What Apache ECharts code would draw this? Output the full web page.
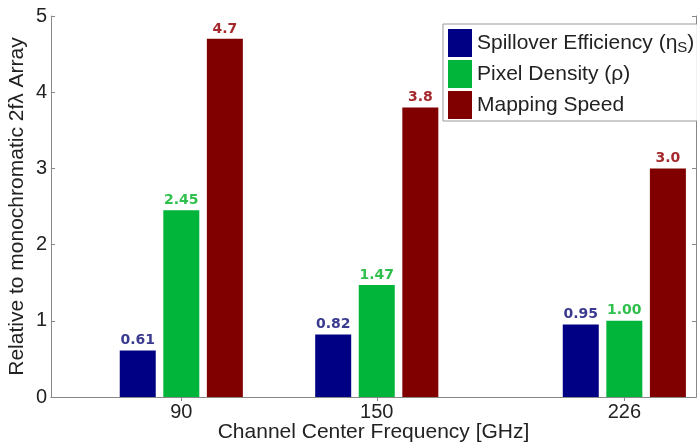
<!DOCTYPE html>
<html><head><meta charset="utf-8">
<script src="https://cdn.jsdelivr.net/npm/echarts@6/dist/echarts.min.js"></script>
<style>html,body{margin:0;padding:0;background:#fff}#c{width:697px;height:445px}</style>
</head><body><div id="c"></div>
<script>
const frequencies = [90, 150, 226];
const spillover = [0.61, 0.82, 0.95];
const pixelDensity = [2.45, 1.47, 1.00];
const mappingSpeed = [4.7, 3.8, 3.0];
const seriesNames = ['Spillover Efficiency (ηS)', 'Pixel Density (ρ)', 'Mapping Speed'];
const yTicks = [0, 1, 2, 3, 4, 5];

const barColors = ['#000084', '#00b53a', '#800000'];
const labelColors = ['#3a3a8e', '#2fbf4c', '#a52a2e'];
const decimals = [2, 2, 1];
const allValues = [spillover, pixelDensity, mappingSpeed];

const chart = echarts.init(document.getElementById('c'), null, {renderer: 'canvas'});
const font = 'Liberation Sans, Arial, sans-serif';

const series = allValues.map((vals, i) => ({
  name: seriesNames[i],
  type: 'bar',
  xAxisIndex: 0, yAxisIndex: 0,
  barWidth: 36,
  barGap: '21%',
  itemStyle: {color: barColors[i]},
  label: {
    show: true, position: 'top', distance: 3,
    color: labelColors[i], fontFamily: 'DejaVu Sans, sans-serif', fontWeight: 'bold', fontSize: 14,
    formatter: p => p.value[1].toFixed(decimals[i])
  },
  data: frequencies.map((f, k) => [f, vals[k]])
}));

chart.setOption({
  animation: false,
  backgroundColor: '#fff',
  grid: {left: 51, top: 16, right: 1, bottom: 48, containLabel: false, outerBoundsMode: 'none'},
  legend: {
    orient: 'vertical', left: 443, top: 24,
    data: seriesNames,
    icon: 'rect', itemWidth: 24, itemHeight: 28, itemGap: 3,
    padding: [5, 3, 2, 5],
    borderColor: '#999', borderWidth: 1, backgroundColor: '#fff',
    textStyle: {
      fontFamily: font, fontSize: 21, color: '#222',
      rich: {
        t: {fontFamily: font, fontSize: 21, color: '#222'},
        s: {fontFamily: font, fontSize: 15, color: '#222', verticalAlign: 'bottom', padding: [10, 0, 0, 0]}
      }
    },
    formatter: function (name) {
      if (name === seriesNames[0]) return '{t|Spillover Efficiency (η}{s|S}{t|)}';
      return '{t|' + name + '}';
    }
  },
  xAxis: [{
    type: 'value', min: 50, max: 248, position: 'bottom',
    name: 'Channel Center Frequency [GHz]', nameLocation: 'middle', nameGap: 25, nameMoveOverlap: false,
    nameTextStyle: {fontFamily: font, fontSize: 21, color: '#222'},
    axisLine: {show: true, lineStyle: {color: '#888', width: 1}},
    axisTick: {show: true, inside: true, length: 4, customValues: frequencies, lineStyle: {color: '#888'}},
    axisLabel: {customValues: frequencies, fontFamily: font, fontSize: 20, color: '#222', margin: 5},
    splitLine: {show: false}
  }, {
    type: 'value', min: 50, max: 248, position: 'top',
    axisLine: {show: true, lineStyle: {color: '#888', width: 1}},
    axisTick: {show: true, inside: true, length: 4, customValues: frequencies, lineStyle: {color: '#888'}},
    axisLabel: {show: false},
    splitLine: {show: false}
  }],
  yAxis: [{
    type: 'value', min: 0, max: 5, interval: 1, position: 'left',
    name: 'Relative to monochromatic 2fλ Array', nameLocation: 'middle', nameGap: 23, nameMoveOverlap: false,
    nameTextStyle: {fontFamily: font, fontSize: 21, color: '#222'},
    axisLine: {show: true, lineStyle: {color: '#888', width: 1}},
    axisTick: {show: true, inside: true, length: 4, lineStyle: {color: '#888'}},
    axisLabel: {customValues: yTicks, fontFamily: font, fontSize: 20, color: '#222', margin: 4},
    splitLine: {show: false}
  }, {
    type: 'value', min: 0, max: 5, interval: 1, position: 'right',
    axisLine: {show: true, lineStyle: {color: '#888', width: 1}},
    axisTick: {show: true, inside: true, length: 4, lineStyle: {color: '#888'}},
    axisLabel: {show: false},
    splitLine: {show: false}
  }],
  series: series
});
</script>
</body></html>
